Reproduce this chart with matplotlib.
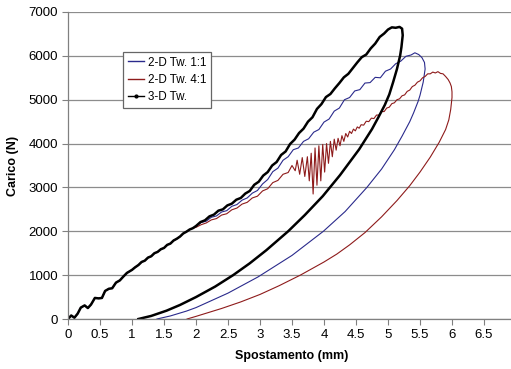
import numpy as np
import matplotlib
matplotlib.use("Agg")
import matplotlib.pyplot as plt
from matplotlib.lines import Line2D

plt.rcParams['font.family'] = ['Liberation Sans', 'DejaVu Sans']

# shared start of the loading branch (all three curves overlap here)
start_x = [0, 0.05, 0.10, 0.15, 0.20, 0.26, 0.31, 0.36, 0.42, 0.48, 0.53, 0.58,
           0.64, 0.69, 0.75, 0.81, 0.86, 0.92, 1.00, 1.05, 1.10, 1.15, 1.20, 1.25,
           1.30, 1.35, 1.40, 1.45, 1.50, 1.55, 1.60, 1.65, 1.70, 1.75, 1.80, 1.85,
           1.90, 1.95]
start_y = [0, 80, 30, 120, 260, 310, 250, 330, 480, 470, 480, 640,
           690, 700, 830, 880, 960, 1050, 1120, 1180, 1230, 1300, 1330, 1400,
           1430, 1500, 1530, 1590, 1620, 1690, 1720, 1790, 1830, 1880, 1950, 1990,
           2040, 2070]

# 2-D Tw. 1:1 (loading from 2 mm, then unloading)
blue_x = [2.00, 2.08, 2.16, 2.24, 2.32, 2.40, 2.48, 2.56, 2.64, 2.72, 2.80, 2.88,
          2.96, 3.04, 3.12, 3.20, 3.28, 3.36, 3.44, 3.52, 3.60, 3.68, 3.76, 3.84,
          3.92, 4.00, 4.08, 4.16, 4.24, 4.32, 4.40, 4.48, 4.56, 4.64, 4.72, 4.80,
          4.88, 4.96, 5.04, 5.12, 5.20, 5.28, 5.36, 5.42, 5.48, 5.53, 5.57, 5.58,
          5.55, 5.50, 5.47, 5.40, 5.34, 5.22, 5.10, 4.90, 4.67, 4.33, 3.99, 3.50,
          2.97, 2.50, 2.00, 1.85, 1.60, 1.39]
blue_y = [2110, 2200, 2230, 2320, 2350, 2440, 2470, 2570, 2610, 2710, 2760, 2870,
          2930, 3080, 3180, 3360, 3440, 3620, 3700, 3860, 3900, 4050, 4110, 4260,
          4320, 4490, 4560, 4740, 4810, 5000, 5050, 5200, 5230, 5380, 5390, 5510,
          5500, 5650, 5700, 5820, 5880, 5990, 6020, 6070, 6030, 5960, 5850, 5700,
          5400, 5100, 4960, 4700, 4500, 4170, 3860, 3420, 3000, 2450, 2000, 1450,
          960, 590, 260, 180, 70, 0]

# 2-D Tw. 4:1
red_x = [2.00, 2.08, 2.16, 2.24, 2.32, 2.40, 2.48, 2.56, 2.64, 2.72, 2.80, 2.88,
         2.96, 3.04, 3.12, 3.20, 3.28, 3.36, 3.44, 3.50, 3.55, 3.58, 3.62, 3.66,
         3.70, 3.74, 3.77, 3.80, 3.83, 3.86, 3.89, 3.92, 3.95, 3.98, 4.01, 4.04,
         4.07, 4.10, 4.13, 4.16, 4.19, 4.22, 4.25, 4.28, 4.31, 4.34, 4.37, 4.40,
         4.43, 4.46, 4.49, 4.52, 4.55, 4.58, 4.62, 4.66, 4.70, 4.74, 4.78, 4.82,
         4.86, 4.90, 4.94, 4.98, 5.02, 5.06, 5.10, 5.14, 5.18, 5.22, 5.26, 5.30,
         5.34, 5.38, 5.42, 5.46, 5.50, 5.54, 5.58, 5.62, 5.66, 5.70, 5.74, 5.78,
         5.82, 5.86, 5.90, 5.94, 5.97, 5.99, 6.00,
         6.00, 5.98, 5.95, 5.90, 5.80, 5.66, 5.50, 5.34, 5.14, 4.90, 4.64, 4.40,
         4.20, 4.00, 3.63, 3.30, 3.00, 2.70, 2.40, 2.20, 2.00, 1.86]
red_y = [2090, 2150, 2190, 2260, 2290, 2370, 2400, 2490, 2530, 2620, 2660, 2760,
         2800, 2920, 2970, 3110, 3160, 3300, 3340, 3500, 3380, 3620, 3300, 3680,
         3250, 3700, 3150, 3780, 2850, 3900, 3050, 3950, 3150, 3980, 3350, 4000,
         3550, 4050, 3700, 4100, 3850, 4120, 3950, 4180, 4050, 4230, 4150, 4280,
         4230, 4330, 4290, 4380, 4350, 4430, 4420, 4510, 4500, 4580, 4570, 4650,
         4650, 4730, 4730, 4810, 4830, 4910, 4930, 5000, 5020, 5090, 5110, 5190,
         5220, 5300, 5330, 5400, 5430, 5500, 5530, 5590, 5590, 5630, 5610, 5640,
         5600, 5590, 5530, 5460, 5380, 5300, 5180,
         5050, 4780, 4540, 4320, 4030, 3690, 3350, 3040, 2700, 2330, 1970, 1690,
         1480, 1300, 1000, 760, 560, 390, 240, 150, 60, 0]

# 3-D Tw.
black_x = [2.00, 2.07, 2.14, 2.21, 2.28, 2.35, 2.42, 2.49, 2.56, 2.63, 2.70, 2.77,
           2.84, 2.91, 2.98, 3.05, 3.12, 3.19, 3.26, 3.33, 3.40, 3.47, 3.54, 3.61,
           3.68, 3.75, 3.82, 3.89, 3.96, 4.03, 4.10, 4.17, 4.24, 4.31, 4.38, 4.45,
           4.52, 4.59, 4.66, 4.73, 4.80, 4.87, 4.94, 5.00, 5.06, 5.12, 5.18, 5.22,
           5.23, 5.21, 5.19, 5.14, 5.08, 5.02, 4.95, 4.85, 4.75, 4.55, 4.25, 3.98,
           3.70, 3.44, 3.10, 2.84, 2.58, 2.30, 2.00, 1.75, 1.54, 1.30, 1.10]
black_y = [2120, 2210, 2250, 2340, 2380, 2470, 2500, 2590, 2630, 2720, 2760, 2860,
           2920, 3060, 3130, 3270, 3350, 3500, 3580, 3740, 3820, 3990, 4090, 4240,
           4340, 4500, 4600, 4790, 4900, 5060, 5130, 5260, 5380, 5510, 5590, 5720,
           5850, 5970, 6030, 6170, 6280, 6430, 6510, 6600, 6650, 6640, 6660, 6620,
           6470, 6200, 6010, 5700, 5400, 5120, 4880, 4600, 4330, 3870, 3280, 2800,
           2370, 2000, 1570, 1270, 1000, 740, 500, 320, 190, 70, 0]

x_ticks = [0, 0.5, 1, 1.5, 2, 2.5, 3, 3.5, 4, 4.5, 5, 5.5, 6, 6.5, 7]
y_ticks = [0, 1000, 2000, 3000, 4000, 5000, 6000, 7000]

blue = '#2a2a8c'
red = '#8e1b1b'

fig = plt.figure(figsize=(5.11, 3.69), dpi=100)
# the axis runs to 7 mm, a bit past the right edge of the picture
ax = fig.add_axes([68 / 511, 50 / 369, 448 / 511, 307 / 369])

ax.plot(start_x + blue_x, start_y + blue_y, color=blue, lw=0.8)
ax.plot(start_x + red_x, start_y + red_y, color=red, lw=0.8)
ax.plot(start_x + black_x, start_y + black_y, color='black', lw=1.8)

ax.set_xlim(0, 7)
ax.set_ylim(0, 7000)
ax.set_xticks(x_ticks)
ax.set_xticklabels([f'{t:g}' for t in x_ticks])
ax.set_yticks(y_ticks)
ax.tick_params(axis='both', labelsize=9.5, length=4, width=0.8, color='#808080', pad=3)

ax.grid(axis='y', color='#8c8c8c', lw=0.9)
ax.set_axisbelow(True)
for side in ['top', 'right']:
    ax.spines[side].set_visible(False)
for side in ['left', 'bottom']:
    ax.spines[side].set_color('#808080')
    ax.spines[side].set_linewidth(0.9)

ax.set_xlabel('Spostamento (mm)', fontsize=9, fontweight='bold', labelpad=7)
ax.set_ylabel('Carico (N)', fontsize=9, fontweight='bold', labelpad=7)

handles = [Line2D([], [], color=blue, lw=1),
           Line2D([], [], color=red, lw=1),
           Line2D([], [], color='black', lw=1, marker='.', markersize=4)]
leg = ax.legend(handles, ['2-D Tw. 1:1', '2-D Tw. 4:1', '3-D Tw.'],
                loc='upper left', bbox_to_anchor=(0.123, 0.87), borderaxespad=0,
                fontsize=8.4, frameon=True, fancybox=False, framealpha=1,
                edgecolor='#666666', handlelength=1.4, handletextpad=0.3,
                labelspacing=0.45, borderpad=0.4)
leg.get_frame().set_linewidth(0.9)

fig.savefig('out.png', dpi=100)
